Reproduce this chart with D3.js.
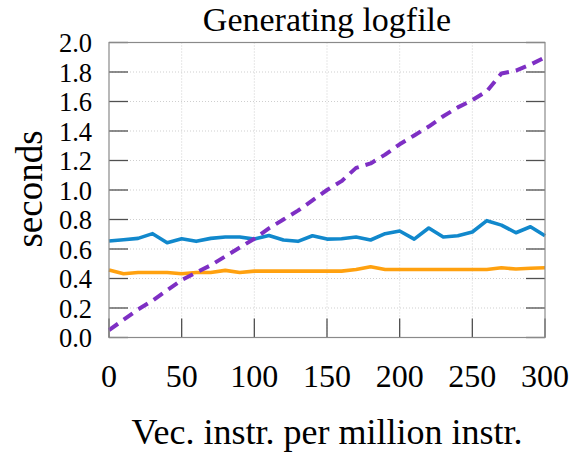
<!DOCTYPE html>
<html>
<head>
<meta charset="utf-8">
<script src="https://cdn.jsdelivr.net/npm/d3@7"></script>
<style>
  html, body { margin: 0; padding: 0; background: #fff; }
  svg { display: block; }
  text { font-family: "Liberation Serif", "DejaVu Serif", serif; fill: #000; }
</style>
</head>
<body>
<svg id="chart" width="576" height="453"></svg>
<script>
// Vector instructions per million instructions (x positions of samples)
const xValues = [0, 10, 20, 30, 40, 50, 60, 70, 80, 90, 100, 110, 120, 130, 140, 150,
                 160, 170, 180, 190, 200, 210, 220, 230, 240, 250, 260, 270, 280, 290, 300];

// Time (seconds) to generate the logfile, one array per configuration
const blueSeries = [0.654, 0.663, 0.672, 0.704, 0.643, 0.670, 0.652, 0.672, 0.681, 0.681,
                    0.667, 0.692, 0.661, 0.652, 0.690, 0.667, 0.670, 0.681, 0.661, 0.704,
                    0.722, 0.667, 0.742, 0.681, 0.690, 0.715, 0.792, 0.762, 0.710, 0.751, 0.690];
const orangeSeries = [0.457, 0.432, 0.441, 0.441, 0.441, 0.432, 0.441, 0.441, 0.455, 0.441,
                      0.450, 0.450, 0.450, 0.450, 0.450, 0.450, 0.450, 0.461, 0.480, 0.461,
                      0.461, 0.461, 0.461, 0.461, 0.461, 0.461, 0.461, 0.473, 0.464, 0.470, 0.473];
const purpleSeries = [0.05, 0.12, 0.19, 0.25, 0.32, 0.39, 0.44, 0.49, 0.55, 0.61,
                      0.67, 0.74, 0.80, 0.86, 0.93, 1.00, 1.06, 1.15, 1.18, 1.24,
                      1.31, 1.37, 1.43, 1.50, 1.56, 1.61, 1.67, 1.79, 1.81, 1.85, 1.90];

const xTicks = [0, 50, 100, 150, 200, 250, 300];
const yTicks = [0.0, 0.2, 0.4, 0.6, 0.8, 1.0, 1.2, 1.4, 1.6, 1.8, 2.0];

const titleText = "Generating logfile";
const xLabel = "Vec. instr. per million instr.";
const yLabel = "seconds";

const series = [
  { values: blueSeries,   color: "#1188cc", dash: null },
  { values: orangeSeries, color: "#ffa10f", dash: null },
  { values: purpleSeries, color: "#7e2fc4", dash: "11,7" }
];

const svg = d3.select("#chart");
const plot = { left: 109, right: 545, top: 42.5, bottom: 337.5 };

const x = d3.scaleLinear().domain([0, 300]).range([plot.left, plot.right]);
const y = d3.scaleLinear().domain([0, 2]).range([plot.bottom, plot.top]);

// dotted grid
const grid = svg.append("g").attr("stroke", "#cfcfcf").attr("stroke-width", 1)
  .attr("stroke-dasharray", "1,2");
grid.selectAll("line.gx").data(xTicks.slice(1, -1)).join("line")
  .attr("x1", d => x(d)).attr("x2", d => x(d))
  .attr("y1", plot.top).attr("y2", plot.bottom);
grid.selectAll("line.gy").data(yTicks.slice(1, -1)).join("line")
  .attr("x1", plot.left).attr("x2", plot.right)
  .attr("y1", d => y(d)).attr("y2", d => y(d));

// inward tick marks: bottom, left and right
const tickLen = 19;
const ticks = svg.append("g").attr("stroke", "#505050").attr("stroke-width", 1.3);
ticks.selectAll("line.tx").data(xTicks).join("line")
  .attr("x1", d => x(d)).attr("x2", d => x(d))
  .attr("y1", plot.bottom).attr("y2", plot.bottom - tickLen);
ticks.selectAll("line.tl").data(yTicks).join("line")
  .attr("x1", plot.left).attr("x2", plot.left + tickLen)
  .attr("y1", d => y(d)).attr("y2", d => y(d));
ticks.selectAll("line.tr").data(yTicks).join("line")
  .attr("x1", plot.right - tickLen).attr("x2", plot.right)
  .attr("y1", d => y(d)).attr("y2", d => y(d));

// series lines
const line = d3.line().x((d, i) => x(xValues[i])).y(d => y(d));
series.forEach(s => {
  const p = svg.append("path")
    .attr("d", line(s.values))
    .attr("fill", "none")
    .attr("stroke", s.color)
    .attr("stroke-width", 3.6)
    .attr("stroke-linejoin", "round");
  if (s.dash) p.attr("stroke-dasharray", s.dash).attr("stroke-width", 4);
});

// frame
svg.append("rect")
  .attr("x", plot.left).attr("y", plot.top)
  .attr("width", plot.right - plot.left).attr("height", plot.bottom - plot.top)
  .attr("fill", "none").attr("stroke", "#8a8a8a").attr("stroke-width", 1.2);

// tick labels
const fmt = d3.format(".1f");
svg.append("g").selectAll("text").data(xTicks).join("text")
  .attr("x", d => x(d)).attr("y", 387)
  .attr("text-anchor", "middle").attr("font-size", 32)
  .text(d => d);
svg.append("g").selectAll("text").data(yTicks).join("text")
  .attr("x", 92).attr("y", d => y(d) + 9.5)
  .attr("text-anchor", "end").attr("font-size", 26.5)
  .text(d => fmt(d));

// titles
svg.append("text").attr("x", (plot.left + plot.right) / 2).attr("y", 31)
  .attr("text-anchor", "middle").attr("font-size", 34).text(titleText);
svg.append("text").attr("x", (plot.left + plot.right) / 2).attr("y", 444)
  .attr("text-anchor", "middle").attr("font-size", 36).text(xLabel);
svg.append("text").attr("transform", "translate(42,189) rotate(-90)")
  .attr("text-anchor", "middle").attr("font-size", 37).text(yLabel);
</script>
</body>
</html>
